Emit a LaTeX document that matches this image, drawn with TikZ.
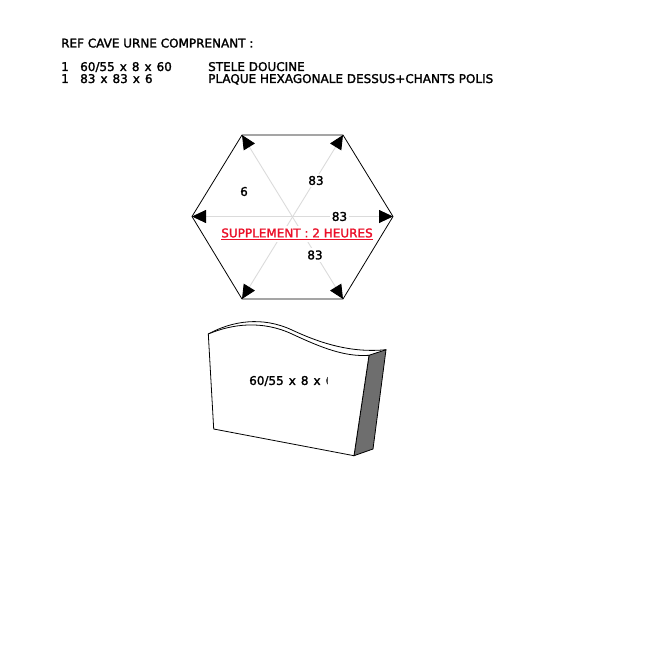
\documentclass[tikz,border=0pt]{standalone}
\usepackage{fontspec}
\setmainfont[RawFeature={embolden=1.8}]{DejaVu Sans}
\usetikzlibrary{arrows.meta, positioning}
\newcommand{\widegaps}{\spaceskip 5pt\relax}
\tikzset{>={Triangle[length=14pt,width=13pt,color=black]}, % big black arrow heads
x=1pt, y=-1pt, % one unit is one pixel of the sheet
every node/.style={font=\fontsize{12}{14}\selectfont, inner sep=1pt},
head/.style={anchor=base west}, % text lines at the top
spoke/.style={<->, draw=black!14, line width=0.9pt},
size/.style={fill=white, inner sep=2pt}, % label that interrupts a spoke
edgeline/.style={draw=black, line width=0.8pt},
}
\definecolor{sidegray}{gray}{0.43}
\definecolor{supred}{RGB}{235,15,40}

\begin{document}
\begin{tikzpicture}
  \useasboundingbox (0,0) rectangle (650,650);
  % text lines
  \node[head] (title) at (60,47.5) {REF CAVE URNE COMPRENANT :};
  \node[head] (n1) at (60,71) {1};
  \node[head] (n2) at (60,83) {1};
  \node[head] (d1) at (79,71) {\widegaps 60/55 x 8 x 60};
  \node[head] (d2) at (79,83) {\widegaps 83 x 83 x 6};
  \node[head] (t1) at (207,71) {STELE DOUCINE};
  \node[head] (t2) at (207,83) {PLAQUE HEXAGONALE DESSUS+CHANTS POLIS};

  % hexagon
  \coordinate (c) at (292.5,216.5);
  \coordinate (h1) at (393,216.5);
  \coordinate (h2) at (343,135);
  \coordinate (h3) at (242,135);
  \coordinate (h4) at (192,216.5);
  \coordinate (h5) at (242,299);
  \coordinate (h6) at (343,299);
  \draw[spoke] (h1) -- (h4);
  \draw[spoke] (h2) -- (h5);
  \draw[spoke] (h3) -- (h6);
  \draw[edgeline] (h1) -- (h2) -- (h3) -- (h4) -- (h5) -- (h6) -- cycle;
  \node (l6) at (244,191.5) {6};
  \node[size] (l83a) at (316,180.5) {83};
  \node[size] (l83b) at (339.5,216.5) {83};
  \node[size] (l83c) at (315,255) {83};
  \node[size, text=supred] (sup) at (297,234)
    {\underline{SUPPLEMENT : 2 HEURES}};

  % stele
  \coordinate (s1) at (208.3,334);
  \coordinate (s2) at (213.7,429);
  \coordinate (s3) at (354,455.7);
  \coordinate (s4) at (373,449);
  \coordinate (s5) at (386,349.7);
  \coordinate (s6) at (369,355.3);
  \draw[edgeline, fill=sidegray] (s6) -- (s5) -- (s4) -- (s3) -- cycle;
  \draw[edgeline] (s1) .. controls (232,321) and (262,316) .. (292,330)
    .. controls (322,344) and (352,353) .. (s5);
  \draw[edgeline, fill=white] (s1) .. controls (232,324) and (262,320) .. (292,334)
    .. controls (322,348) and (345,357) .. (s6) -- (s3) -- (s2) -- cycle;
  \begin{scope}
    \clip (240,370) rectangle (327.5,395);
    \node[anchor=west] (st) at (248,381) {\widegaps 60/55 x 8 x\hspace{5pt}60};
  \end{scope}
\end{tikzpicture}
\end{document}
